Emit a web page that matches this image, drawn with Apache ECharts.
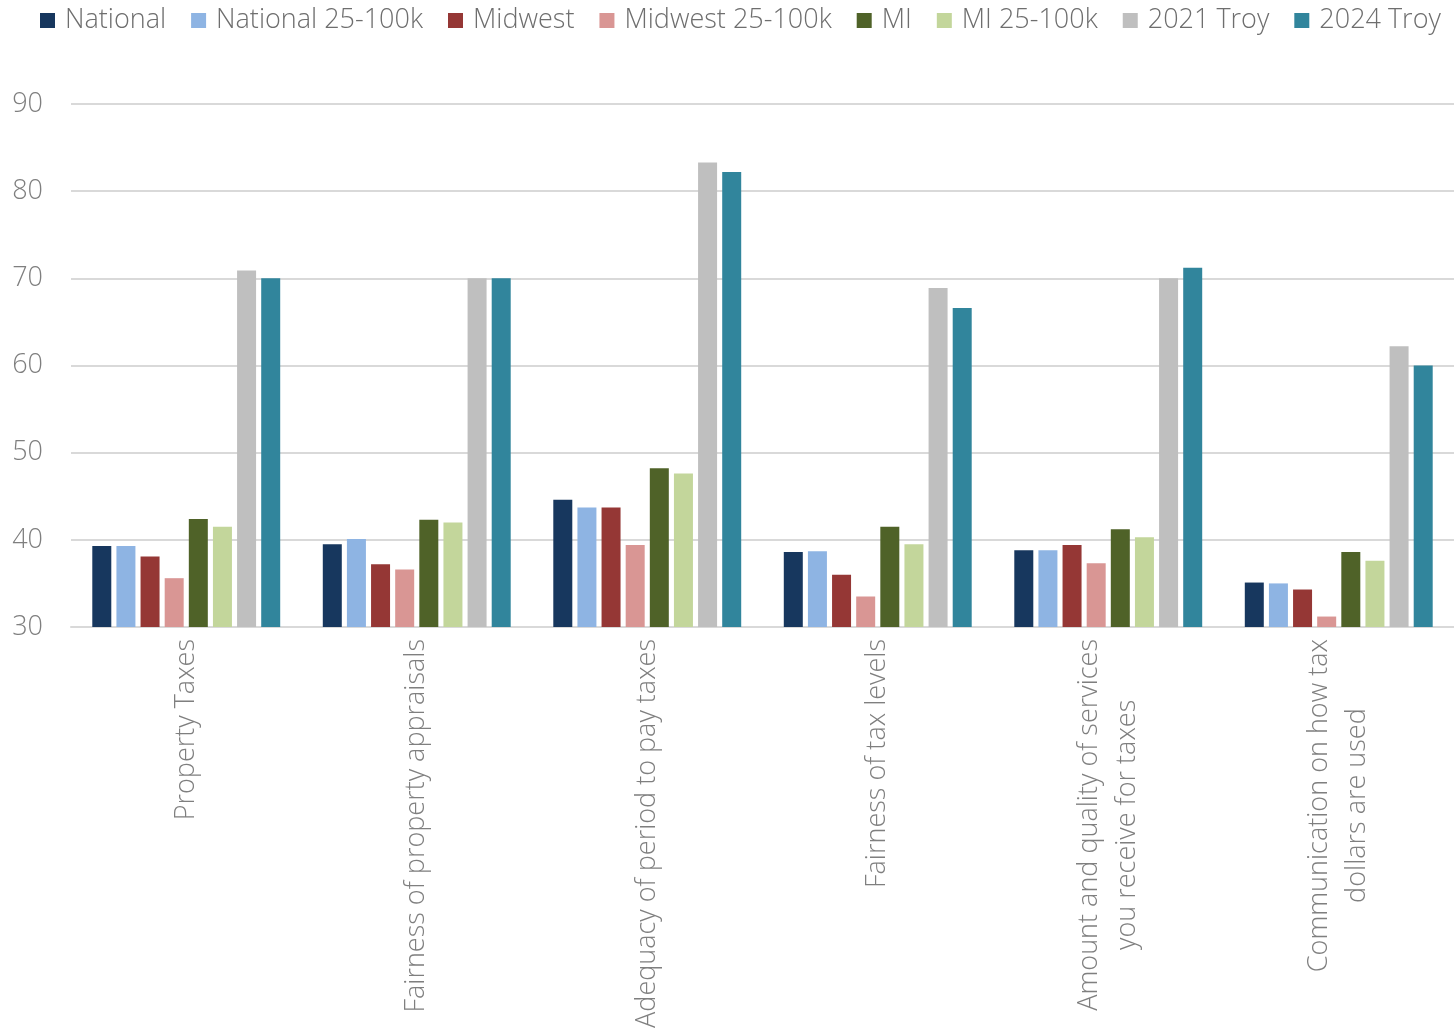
<!DOCTYPE html>
<html>
<head>
<meta charset="utf-8">
<script src="https://cdn.jsdelivr.net/npm/echarts@6/dist/echarts.min.js"></script>
<style>html,body{margin:0;padding:0;background:#fff;}#chart{width:1454px;height:1032px;}</style>
</head>
<body>
<div id="chart"></div>
<script>
const categories = [
  'Property Taxes',
  'Fairness of property appraisals',
  'Adequacy of period to pay taxes',
  'Fairness of tax levels',
  'Amount and quality of services\nyou receive for taxes',
  'Communication on how tax\ndollars are used'
];
const seriesNames = ['National', 'National 25-100k', 'Midwest', 'Midwest 25-100k', 'MI', 'MI 25-100k', '2021 Troy', '2024 Troy'];
const national      = [39.3, 39.5, 44.6, 38.6, 38.8, 35.1];
const national25    = [39.3, 40.1, 43.7, 38.7, 38.8, 35.0];
const midwest       = [38.1, 37.2, 43.7, 36.0, 39.4, 34.3];
const midwest25     = [35.6, 36.6, 39.4, 33.5, 37.3, 31.2];
const mi            = [42.4, 42.3, 48.2, 41.5, 41.2, 38.6];
const mi25          = [41.5, 42.0, 47.6, 39.5, 40.3, 37.6];
const troy2021      = [70.9, 70.0, 83.3, 68.9, 70.0, 62.2];
const troy2024      = [70.0, 70.0, 82.2, 66.6, 71.2, 60.0];
const yTicks = [30, 40, 50, 60, 70, 80, 90];

const allData = [national, national25, midwest, midwest25, mi, mi25, troy2021, troy2024];
const colors = ['#17375E', '#8EB4E3', '#953735', '#D99694', '#4F6228', '#C3D69B', '#BFBFBF', '#31859C'];
const FONT = '"Open Sans", "Liberation Sans", sans-serif';

const chart = echarts.init(document.getElementById('chart'));
chart.setOption({
  animation: false,
  backgroundColor: '#ffffff',
  color: colors,
  legend: {
    top: 2,
    left: 35,
    itemWidth: 15,
    itemHeight: 15,
    itemGap: 25,
    icon: 'rect',
    textStyle: { color: '#6e6e6e', fontSize: 27, fontFamily: FONT, fontWeight: 300, padding: [0, 0, 0, 5] },
    data: seriesNames
  },
  grid: { left: 71, right: 0, top: 104, bottom: 405, containLabel: false },
  xAxis: {
    type: 'category',
    data: categories,
    axisLine: { show: true, lineStyle: { color: '#D9D9D9', width: 2 } },
    axisTick: { show: false },
    axisLabel: {
      rotate: 90,
      margin: 12,
      interval: 0,
      color: '#7f7f7f',
      fontSize: 27,
      fontFamily: FONT,
      fontWeight: 300,
      lineHeight: 38,
      formatter: function (v) {
        return v.split('\n').map(function (s) { return '{c|' + s + '}'; }).join('\n');
      },
      rich: { c: { align: 'center', fontSize: 27, fontFamily: FONT, fontWeight: 300, color: '#7f7f7f', lineHeight: 38 } }
    }
  },
  yAxis: {
    type: 'value',
    min: yTicks[0],
    max: yTicks[yTicks.length - 1],
    interval: 10,
    axisLine: { show: false },
    axisTick: { show: false },
    splitLine: { lineStyle: { color: '#D9D9D9', width: 2 } },
    axisLabel: { color: '#7f7f7f', fontSize: 27, fontFamily: FONT, fontWeight: 300, margin: 28 }
  },
  series: seriesNames.map(function (name, i) {
    return {
      name: name,
      type: 'bar',
      data: allData[i],
      barWidth: 19,
      barGap: '27%',
      itemStyle: { color: colors[i] }
    };
  })
});
</script>
</body>
</html>
